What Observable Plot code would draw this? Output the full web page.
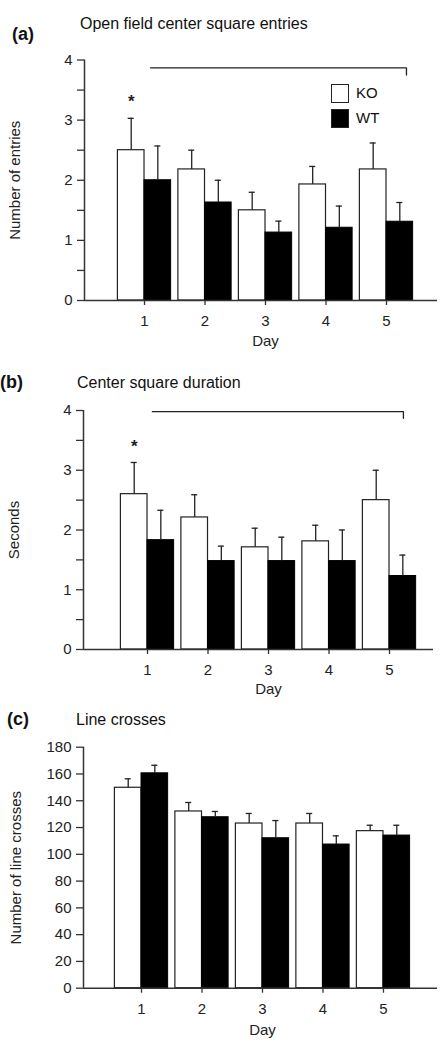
<!DOCTYPE html>
<html><head><meta charset="utf-8">
<script src="https://cdn.jsdelivr.net/npm/d3@7"></script>
<script src="https://cdn.jsdelivr.net/npm/@observablehq/plot@0.6"></script>
<style>
body{margin:0;background:#fff;font-family:"Liberation Sans",Arial,sans-serif;color:#111}
#wrap{position:relative;width:444px;height:1044px;overflow:hidden;background:#fff}
.abs{position:absolute;white-space:nowrap;line-height:1}
.panel{position:absolute;left:0}
.sw{position:absolute;box-sizing:border-box;border:1.5px solid #222}
</style></head><body><div id="wrap"></div>
<script>
// ---- data ----
const days = [1, 2, 3, 4, 5];
const groups = ["KO", "WT"];

// (a) Open field center square entries
const entriesKO = [2.5, 2.18, 1.5, 1.93, 2.18];
const entriesKOerr = [0.53, 0.32, 0.3, 0.3, 0.44];
const entriesWT = [2.0, 1.63, 1.13, 1.21, 1.31];
const entriesWTerr = [0.57, 0.37, 0.19, 0.36, 0.32];
const entriesTicks = [0, 1, 2, 3, 4];
const entriesMinor = [0.5, 1.5, 2.5, 3.5];

// (b) Center square duration
const durationKO = [2.6, 2.21, 1.71, 1.81, 2.5];
const durationKOerr = [0.53, 0.38, 0.32, 0.27, 0.5];
const durationWT = [1.83, 1.48, 1.48, 1.48, 1.23];
const durationWTerr = [0.5, 0.25, 0.4, 0.52, 0.35];
const durationTicks = [0, 1, 2, 3, 4];
const durationMinor = [0.5, 1.5, 2.5, 3.5];

// (c) Line crosses
const crossesKO = [149.7, 132, 123, 123, 117.3];
const crossesKOerr = [6.7, 6.7, 7.5, 7.5, 4.4];
const crossesWT = [160.5, 127.7, 112, 107.3, 114];
const crossesWTerr = [6, 4.3, 13.2, 6.5, 7.7];
const crossesTicks = [0, 20, 40, 60, 80, 100, 120, 140, 160, 180];

// significance markers (data units)
const bracketA = {x1: 1.1, x2: 5.33, y: 3.87, drop: 0.12};
const bracketB = {x1: 1.08, x2: 5.23, y: 3.98, drop: 0.11};
const starA = {day: 1, y: 3.37};
const starB = {day: 1, y: 3.47};

// ---- drawing ----
const BW = 0.44;      // bar width in day units
const CAP = 0.05;     // half cap width in day units
const INK = "#222";

function rowsOf(ko, koErr, wt, wtErr) {
  const r = [];
  days.forEach((d, i) => {
    r.push({day: d, group: "KO", value: ko[i], err: koErr[i]});
    r.push({day: d, group: "WT", value: wt[i], err: wtErr[i]});
  });
  return r;
}
const x1Of = d => d.group === "KO" ? d.day - BW : d.day;
const x2Of = d => d.group === "KO" ? d.day : d.day + BW;
const cOf = d => d.group === "KO" ? d.day - BW / 2 : d.day + BW / 2;

function panel(o) {
  const rows = rowsOf(o.ko, o.koErr, o.wt, o.wtErr);
  const marks = [
    Plot.rectY(rows.filter(d => d.group === "KO"), {x1: x1Of, x2: x2Of, y1: 0, y2: "value", fill: "white", stroke: INK, strokeWidth: 1.2}),
    Plot.rectY(rows.filter(d => d.group === "WT"), {x1: x1Of, x2: x2Of, y1: 0, y2: "value", fill: "black", stroke: "black", strokeWidth: 1}),
    Plot.ruleX(rows, {x: cOf, y1: "value", y2: d => d.value + d.err, stroke: INK, strokeWidth: 1.3}),
    Plot.ruleY(rows, {y: d => d.value + d.err, x1: d => cOf(d) - CAP, x2: d => cOf(d) + CAP, stroke: INK, strokeWidth: 1.3}),
    Plot.axisY({ticks: o.yTicks, tickSize: 7, tickPadding: 5, label: null, stroke: "#333", strokeWidth: 1.3, fill: INK, tickFormat: d => String(d)}),
    Plot.axisX({ticks: days, tickSize: 5, tickPadding: 10, label: null, stroke: "#333", strokeWidth: 1.3, fill: INK, tickFormat: d => String(d)}),
    Plot.ruleX([o.xDomain[0]], {stroke: "#333", strokeWidth: 1.5}),
    Plot.ruleY([0], {stroke: "#333", strokeWidth: 1.5}),
    Plot.text([o.ylabel], {frameAnchor: "left", textAnchor: "middle", lineAnchor: "middle", rotate: -90, dx: o.ylabelX - o.marginLeft, text: d => d, fontSize: 15, fill: INK}),
    Plot.text([3], {x: d => d, frameAnchor: "bottom", dy: o.dayDy, text: () => "Day", fontSize: 15, fill: INK})
  ];
  if (o.yMinor) marks.push(Plot.axisY({ticks: o.yMinor, tickSize: 7, label: null, stroke: "#333", strokeWidth: 1.3, tickFormat: () => ""}));
  if (o.bracket) {
    const b = o.bracket;
    marks.push(Plot.line([{x: b.x1, y: b.y}, {x: b.x2, y: b.y}, {x: b.x2, y: b.y - b.drop}], {x: "x", y: "y", stroke: INK, strokeWidth: 1.3}));
  }
  if (o.star) {
    marks.push(Plot.text([o.star], {x: d => d.day - BW / 2, y: "y", text: () => "*", fontSize: 17, fontWeight: "bold", dy: 4, fill: INK}));
  }
  return Plot.plot({
    width: 444, height: o.height,
    marginTop: o.marginTop, marginBottom: o.marginBottom,
    marginLeft: o.marginLeft, marginRight: o.marginRight,
    style: {fontSize: "15px", fontFamily: "'Liberation Sans', Arial, sans-serif", background: "transparent", color: INK, overflow: "visible"},
    x: {type: "linear", domain: o.xDomain},
    y: {domain: o.yDomain},
    marks
  });
}

const wrap = document.getElementById("wrap");
function place(el, top) {
  const d = document.createElement("div");
  d.className = "panel"; d.style.top = top + "px";
  d.appendChild(el); wrap.appendChild(d);
}
function label(text, x, cy, size, bold) {
  const d = document.createElement("div");
  d.className = "abs";
  d.textContent = text;
  d.style.left = x + "px";
  d.style.top = (cy - size * 0.55) + "px";
  d.style.fontSize = size + "px";
  if (bold) d.style.fontWeight = "bold";
  wrap.appendChild(d);
}

place(panel({
  height: 310, marginTop: 14.5, marginBottom: 55, marginLeft: 84, marginRight: 7,
  xDomain: [0.008, 5.843], yDomain: [0, 4], yTicks: entriesTicks, yMinor: entriesMinor,
  ko: entriesKO, koErr: entriesKOerr, wt: entriesWT, wtErr: entriesWTerr,
  ylabel: "Number of entries", ylabelX: 15, dayDy: 45, bracket: bracketA, star: starA
}), 45);

place(panel({
  height: 310, marginTop: 15, marginBottom: 56, marginLeft: 83, marginRight: 11,
  xDomain: [-0.058, 5.727], yDomain: [0, 4], yTicks: durationTicks, yMinor: durationMinor,
  ko: durationKO, koErr: durationKOerr, wt: durationWT, wtErr: durationWTerr,
  ylabel: "Seconds", ylabelX: 14, dayDy: 44, bracket: bracketB, star: starB
}), 395);

place(panel({
  height: 309, marginTop: 11.7, marginBottom: 56.3, marginLeft: 83, marginRight: 7,
  xDomain: [0.041, 5.893], yDomain: [0, 180], yTicks: crossesTicks,
  ko: crossesKO, koErr: crossesKOerr, wt: crossesWT, wtErr: crossesWTerr,
  ylabel: "Number of line crosses", ylabelX: 16, dayDy: 47
}), 735);

// titles and panel letters
label("(a)", 12, 35, 18, true);
label("Open field center square entries", 80, 25, 16);
label("(b)", 0, 383, 18, true);
label("Center square duration", 77, 384, 16);
label("(c)", 7, 720, 18, true);
label("Line crosses", 76, 721, 16);

// legend (panel a)
const legend = [{g: groups[0], fill: "white", top: 84}, {g: groups[1], fill: "black", top: 109}];
legend.forEach(l => {
  const s = document.createElement("div");
  s.className = "sw";
  s.style.left = "331px"; s.style.top = l.top + "px";
  s.style.width = "18px"; s.style.height = "18.5px";
  s.style.background = l.fill;
  wrap.appendChild(s);
  label(l.g, 356, l.top + 9, 15);
});
</script></body></html>
